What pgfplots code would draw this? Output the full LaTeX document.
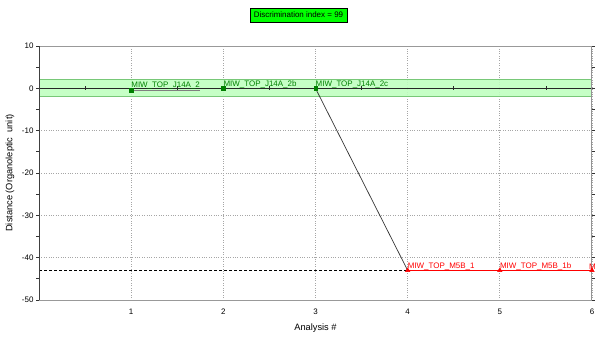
\documentclass[border=0pt]{standalone}
\usepackage{pgfplots}
\pgfplotsset{compat=1.18}
\usepackage{fontspec}
\setmainfont{Liberation Sans}
\definecolor{bandfill}{RGB}{192,255,192}
\definecolor{bandedge}{RGB}{120,200,120}
\definecolor{dkgreen}{RGB}{0,128,0}
\definecolor{titlegreen}{RGB}{0,255,0}
\begin{document}
\begin{tikzpicture}[font=\fontsize{8}{9.5}\selectfont]
\path[use as bounding box] (0,0) rectangle (596bp,338bp);
\node[fill=titlegreen, draw=black, line width=0.8bp, minimum width=97bp, minimum height=14bp, inner sep=1bp] at (298.5bp,323bp) {Discrimination index = 99};
\begin{axis}[
  at={(39bp,38bp)}, anchor=south west,
  scale only axis, width=553bp, height=254bp,
  xmin=0, xmax=6, ymin=-50, ymax=10,
  xtick={1,2,3,4,5,6},
  ytick={-50,-40,-30,-20,-10,0,10},
  minor ytick={-45,-35,-25,-15,-5,5},
  /pgf/number format/assume math mode=true,
  tick align=outside,
  major tick length=3bp, minor tick length=3bp,
  major x tick style={draw=none},
  y tick style={black!80, line width=0.8bp},
  xmajorgrids, ymajorgrids,
  major grid style={gray!70, dotted, line width=0.8bp},
  axis line style={draw=gray!80, line width=1bp},
  xticklabel style={yshift=-2bp},
  yticklabel style={xshift=1bp},
  every axis y label/.style={at={(axis description cs:0,0.5)}, xshift=-29bp, rotate=90, anchor=center, font=\fontsize{9.3}{11}\selectfont},
  every axis x label/.style={at={(axis description cs:0.5,0)}, yshift=-28bp, anchor=center, font=\fontsize{9.3}{11}\selectfont},
  xlabel={Analysis \#},
  ylabel={Distance (Organoleptic\ \ unit)},
]
% tolerance band
\addplot[fill=bandfill, fill opacity=0.9, draw=none] coordinates {(0,-2) (6,-2) (6,2) (0,2) (0,-2)};
\addplot[bandedge, line width=1.2bp] coordinates {(0,2) (6,2)};
\addplot[bandedge, line width=1.2bp] coordinates {(0,-2) (6,-2)};
% zero reference line with half-unit ticks
\addplot[black!85, line width=0.8bp] coordinates {(0,0) (6,0)};
\addplot[only marks, black!85, mark=|, mark size=2bp, mark options={line width=0.8bp}] coordinates {(0.5,0) (1.5,0) (2.5,0) (3.5,0) (4.5,0) (5.5,0)};
% dashed class-2 level
\addplot[black, dash pattern=on 3bp off 2bp, line width=0.8bp] coordinates {(0,-43) (4,-43)};
% gray underline segment
\addplot[gray, line width=1bp] coordinates {(1,-0.4) (1.75,-0.4)};
% transition line
\addplot[black!80, line width=0.7bp] coordinates {(3,0) (4,-43)};
% red series line
\addplot[red, line width=0.8bp] coordinates {(4,-43) (5,-43) (6,-43)};
% green points
\addplot[only marks, mark=square*, mark size=1.8bp, dkgreen,
  point meta=explicit symbolic, nodes near coords,
  every node near coord/.style={anchor=south west, inner sep=0pt, yshift=0.5bp, text=dkgreen}]
  table[meta=lab] {
x y lab
1 -0.4 MIW\_TOP\_J14A\_2
2 0 MIW\_TOP\_J14A\_2b
3 0 MIW\_TOP\_J14A\_2c
};
% red points
\addplot[only marks, mark=triangle*, mark size=2.6bp, red,
  point meta=explicit symbolic, nodes near coords,
  every node near coord/.style={anchor=south west, inner sep=0pt, yshift=0.5bp, text=red}]
  table[meta=lab] {
x y lab
4 -43 MIW\_TOP\_M5B\_1
5 -43 MIW\_TOP\_M5B\_1b
};
\addplot[only marks, mark=triangle*, mark size=2.6bp, red,
  point meta=explicit symbolic, nodes near coords,
  every node near coord/.style={anchor=south east, inner sep=0pt, yshift=0.5bp, xshift=4bp, text=red}]
  table[meta=lab] {
x y lab
6 -43 M
};
% frame: dark left and bottom, heavier gray right
\draw[black!75, line width=1bp] (rel axis cs:0,1) -- (rel axis cs:0,0) -- (rel axis cs:1,0);
\draw[gray!85, line width=1.6bp] (rel axis cs:1,0) -- (rel axis cs:1,1);
\end{axis}
\end{tikzpicture}
\end{document}
